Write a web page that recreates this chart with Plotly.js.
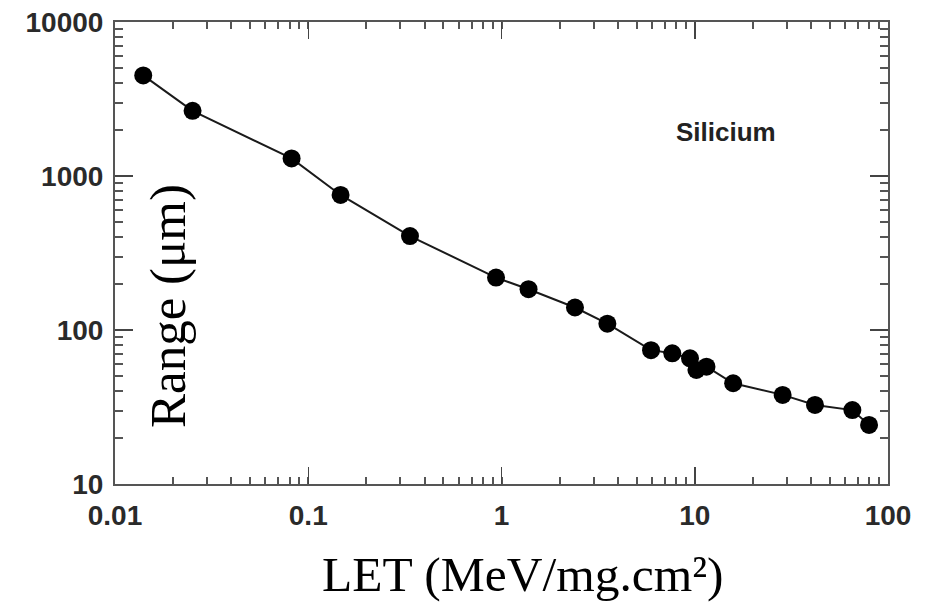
<!DOCTYPE html>
<html>
<head>
<meta charset="utf-8">
<script src="https://cdn.plot.ly/plotly-3.0.1.min.js"></script>
<style>html,body{margin:0;padding:0;background:#fff;}#chart{width:926px;height:615px;}</style>
</head>
<body>
<div id="chart"></div>
<script>
var letValues = [0.014, 0.0252, 0.082, 0.147, 0.336, 0.937, 1.38, 2.40, 3.53, 5.94, 7.65, 9.45, 10.2, 11.5, 15.8, 28.5, 41.9, 65.4, 79.8];
var rangeValues = [4500, 2650, 1300, 753, 407, 219, 184, 140, 110, 74, 70.6, 65.5, 55, 57.8, 45.1, 37.9, 32.6, 30.2, 24.2];
var xTickVals = [0.01, 0.1, 1, 10, 100];
var xTickText = ["0.01", "0.1", "1", "10", "100"];
var yTickVals = [10, 100, 1000, 10000];
var yTickText = ["10", "100", "1000", "10000"];
var materialLabel = "Silicium";
var xTitle = "LET (MeV/mg.cm²)";
var yTitle = "Range (μm)";

var trace = {
  x: letValues,
  y: rangeValues,
  type: 'scatter',
  mode: 'lines+markers',
  line: {color: '#1a1a1a', width: 2},
  marker: {color: '#000', size: 18},
  showlegend: false,
  cliponaxis: false
};

var tickFont = {family: 'Liberation Sans, Arial, sans-serif', size: 28, color: '#2a2a2a', weight: 'bold'};

var layout = {
  width: 926, height: 615,
  margin: {l: 115, r: 38, t: 22, b: 131},
  paper_bgcolor: '#fff', plot_bgcolor: '#fff',
  xaxis: {
    type: 'log', range: [-2, 2],
    tickvals: xTickVals, ticktext: xTickText,
    ticks: 'inside', ticklen: 17, tickwidth: 1.5, tickcolor: '#444',
    minor: {dtick: 'D1', ticks: 'inside', ticklen: 7, tickwidth: 2, tickcolor: '#555'},
    showline: true, linecolor: '#555', linewidth: 2, mirror: 'ticks',
    showgrid: false, zeroline: false,
    tickfont: tickFont, ticklabelstandoff: 5
  },
  yaxis: {
    type: 'log', range: [1, 4],
    tickvals: yTickVals, ticktext: yTickText,
    ticks: 'inside', ticklen: 18, tickwidth: 1.5, tickcolor: '#444',
    minor: {dtick: 'D1', ticks: 'inside', ticklen: 8, tickwidth: 2, tickcolor: '#555'},
    showline: true, linecolor: '#555', linewidth: 2, mirror: 'ticks',
    showgrid: false, zeroline: false,
    tickfont: tickFont, ticklabelstandoff: 4
  },
  annotations: [
    {text: materialLabel, xref: 'paper', yref: 'paper', x: (726-115)/773, y: (484-132)/462,
     showarrow: false, xanchor: 'center', yanchor: 'middle',
     font: {family: 'Liberation Sans, Arial, sans-serif', size: 26, color: '#222', weight: 'bold'}},
    {text: yTitle, xref: 'paper', yref: 'paper', x: (168-115)/773, y: (484-306)/462,
     showarrow: false, xanchor: 'center', yanchor: 'middle', textangle: -90,
     font: {family: 'Liberation Serif, Times New Roman, serif', size: 51, color: '#000'}},
    {text: xTitle, xref: 'paper', yref: 'paper', x: (523-115)/773, y: (484-574)/462,
     showarrow: false, xanchor: 'center', yanchor: 'middle',
     font: {family: 'Liberation Serif, Times New Roman, serif', size: 49.5, color: '#000'}}
  ]
};

Plotly.newPlot('chart', [trace], layout, {displayModeBar: false, staticPlot: true});
</script>
</body>
</html>
